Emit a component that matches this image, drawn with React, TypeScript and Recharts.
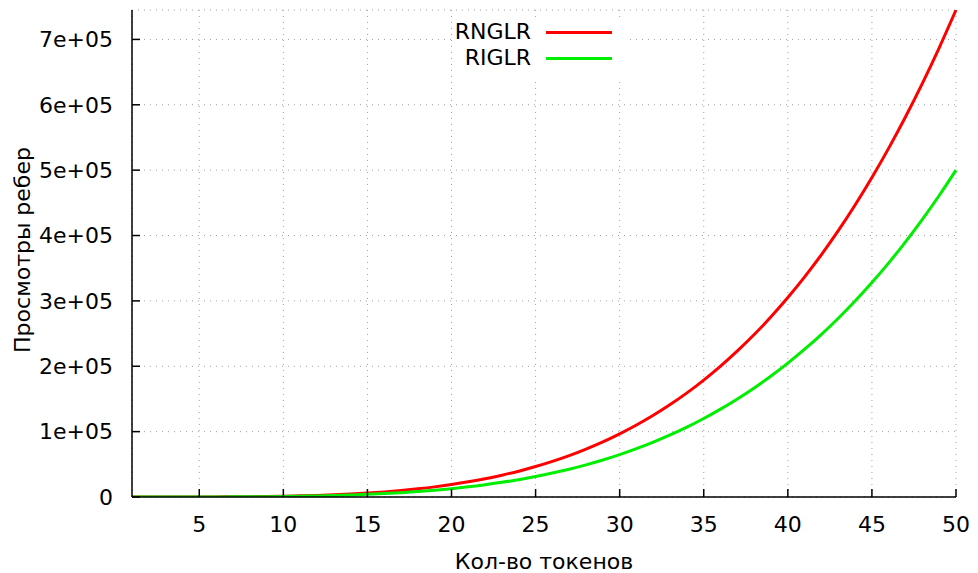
import React from 'react';
import { LineChart, Line, XAxis, YAxis, CartesianGrid, Legend, Label } from 'recharts';

// token counts on the x axis
const tokens = [
  1, 2, 3, 4, 5, 6, 7, 8, 9, 10,
  11, 12, 13, 14, 15, 16, 17, 18, 19, 20,
  21, 22, 23, 24, 25, 26, 27, 28, 29, 30,
  31, 32, 33, 34, 35, 36, 37, 38, 39, 40,
  41, 42, 43, 44, 45, 46, 47, 48, 49, 50,
];

// edge views
const rnglr = [
  0, 2, 10, 31, 75, 154, 286, 488, 782, 1190,
  1750, 2470, 3400, 4580, 6030, 7810, 9960, 12500, 15500, 19100,
  23200, 27900, 33400, 39500, 46600, 54500, 63300, 73300, 84300, 96600,
  110100, 125000, 141400, 159300, 178900, 200200, 223400, 248500, 275800, 305200,
  336800, 370900, 407500, 446800, 488800, 533700, 581700, 632800, 687200, 745000,
];

const riglr = [
  0, 1, 6, 20, 50, 104, 192, 328, 525, 800,
  1170, 1660, 2290, 3070, 4050, 5240, 6680, 8400, 10400, 12800,
  15600, 18700, 22400, 26500, 31300, 36600, 42500, 49200, 56600, 64800,
  73900, 83900, 94900, 106900, 120100, 134400, 149900, 166800, 185100, 204800,
  226100, 248900, 273500, 299800, 328100, 358200, 390400, 424700, 461200, 500000,
];

const xTicks = [5, 10, 15, 20, 25, 30, 35, 40, 45, 50];
const yTicks = [0, 100000, 200000, 300000, 400000, 500000, 600000, 700000];

const series = [
  { key: 'rnglr', name: 'RNGLR', color: '#ff0000' },
  { key: 'riglr', name: 'RIGLR', color: '#00ee00' },
];

const data = tokens.map((n, i) => ({ n, rnglr: rnglr[i], riglr: riglr[i] }));

const font = '"DejaVu Sans", sans-serif';
const fs = 22;
const tickStyle = { fill: '#000', fontSize: fs, fontFamily: font };
const border = { stroke: '#000', strokeWidth: 1.5 };

const fmtY = (v: number) => (v === 0 ? '0' : `${v / 100000}e+05`);

const LegendBox = () => (
  <div style={{ fontFamily: font, fontSize: fs, color: '#000', background: '#fff', width: 174, height: 58 }}>
    {series.map((s) => (
      <div key={s.key} style={{ display: 'flex', alignItems: 'center', height: 26 }}>
        <span style={{ width: 79, textAlign: 'right', lineHeight: '26px', whiteSpace: 'nowrap', display: 'flex', justifyContent: 'flex-end' }}>
          {s.name}
        </span>
        <span style={{ width: 66, height: 3, background: s.color, marginLeft: 15 }} />
      </div>
    ))}
  </div>
);

const App: React.FC = () => {
  return (
    <div style={{ position: 'absolute', left: 0, top: 0, fontFamily: font }}>
      <LineChart width={978} height={573} data={data} margin={{ top: 10, right: 22, bottom: 0, left: 0 }}>
        <CartesianGrid stroke="#a0a0a0" strokeDasharray="1 5" />
        <XAxis
          dataKey="n"
          type="number"
          domain={[1, 50]}
          ticks={xTicks}
          height={76}
          axisLine={border}
          tickLine={border}
          tickSize={-8}
          tickMargin={27}
          tick={tickStyle}
        >
          <Label value="Кол-во токенов" position="insideBottom" offset={4} style={{ fontSize: fs, fill: '#000', fontFamily: font }} />
        </XAxis>
        <XAxis
          xAxisId="top"
          orientation="top"
          dataKey="n"
          type="number"
          domain={[1, 50]}
          ticks={xTicks}
          height={0}
          axisLine={border}
          tickLine={border}
          tickSize={-8}
          tick={false}
        />
        <YAxis
          type="number"
          domain={[0, 745000]}
          allowDataOverflow
          ticks={yTicks}
          tickFormatter={fmtY}
          width={132}
          axisLine={border}
          tickLine={border}
          tickSize={-8}
          tickMargin={27}
          tick={tickStyle}
          label={{
            content: () => (
              <text
                x={22}
                y={250}
                transform="rotate(-90 22 250)"
                textAnchor="middle"
                dominantBaseline="central"
                fontSize={fs}
                fontFamily={font}
                fill="#000"
              >
                Просмотры ребер
              </text>
            ),
          }}
        />
        <YAxis
          yAxisId="right"
          orientation="right"
          type="number"
          domain={[0, 745000]}
          ticks={yTicks}
          width={0}
          axisLine={border}
          tickLine={border}
          tickSize={-8}
          tick={false}
        />
        <Legend
          layout="vertical"
          align="center"
          verticalAlign="middle"
          content={<LegendBox />}
          wrapperStyle={{ left: 452, top: 19, width: 174, height: 58 }}
        />
        {series.map((s) => (
          <Line
            key={s.key}
            dataKey={s.key}
            name={s.name}
            stroke={s.color}
            strokeWidth={3}
            dot={false}
            type="monotone"
            isAnimationActive={false}
          />
        ))}
      </LineChart>
    </div>
  );
};

export default App;
